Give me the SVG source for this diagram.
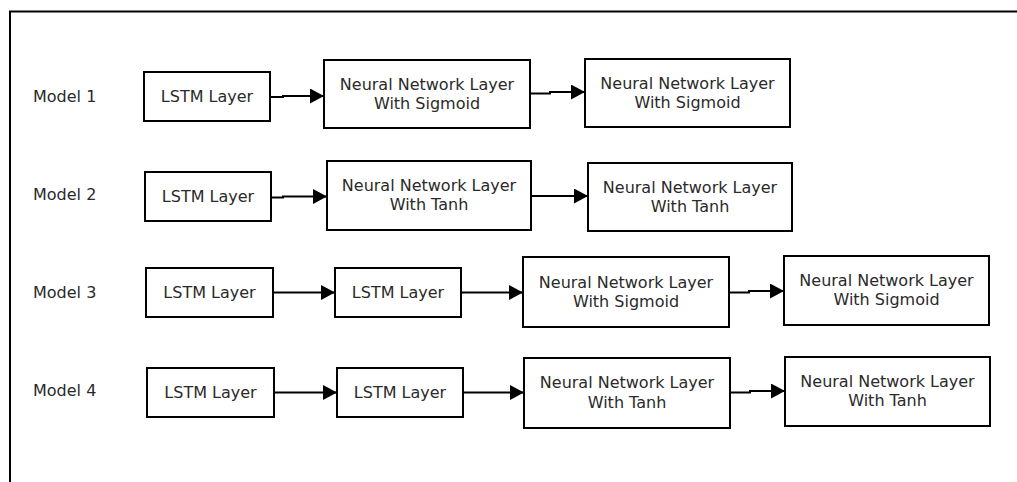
<svg xmlns="http://www.w3.org/2000/svg" width="1017" height="482" viewBox="0 0 1017 482">
  <defs>
    <marker id="head" viewBox="0 0 14 15" refX="14" refY="7.5" markerWidth="14" markerHeight="15" markerUnits="userSpaceOnUse" orient="auto">
      <path d="M0,0 L14,7.5 L0,15 Z" fill="#000"/>
    </marker>
    <style>
      .box { fill: #fff; stroke: #000; stroke-width: 2; }
      .lbl { font-family: "DejaVu Sans", sans-serif; font-size: 16px; fill: #2a2a2a; text-anchor: middle; }
      .model { font-family: "DejaVu Sans", sans-serif; font-size: 16px; fill: #2a2a2a; }
      .edge { fill: none; stroke: #000; stroke-width: 2; marker-end: url(#head); }
      .frame { fill: none; stroke: #000; stroke-width: 2; }
    </style>
  </defs>

  <rect x="0" y="0" width="1017" height="482" fill="#fff"/>
  <path class="frame" d="M10,482 V11.5 H1017"/>

  <!-- row labels -->
  <g id="labels">
    <text class="model" x="33" y="102">Model 1</text>
    <text class="model" x="33" y="200">Model 2</text>
    <text class="model" x="33" y="298">Model 3</text>
    <text class="model" x="33" y="396">Model 4</text>
  </g>

  <!-- connectors -->
  <g id="connectors">
    <path class="edge" d="M270,97 H283 V96 H324"/>
    <path class="edge" d="M530,93.5 H550 V92 H585"/>
    <path class="edge" d="M271,197.5 H283 V196.5 H327"/>
    <path class="edge" d="M531,196 H588"/>
    <path class="edge" d="M273,292.5 H335"/>
    <path class="edge" d="M461,292.5 H523"/>
    <path class="edge" d="M729,292.5 H749 V291 H784"/>
    <path class="edge" d="M274,392.5 H337"/>
    <path class="edge" d="M463,392.5 H524"/>
    <path class="edge" d="M730,392.5 H750 V391 H785"/>
  </g>

  <!-- Model 1 -->
  <g id="m1-lstm">
    <rect class="box" x="144" y="72" width="126" height="49"/>
    <text class="lbl" x="207" y="102">LSTM Layer</text>
  </g>
  <g id="m1-nn1">
    <rect class="box" x="324" y="60" width="206" height="68"/>
    <text class="lbl" x="427" y="90">Neural Network Layer</text>
    <text class="lbl" x="427" y="109">With Sigmoid</text>
  </g>
  <g id="m1-nn2">
    <rect class="box" x="585" y="59" width="205" height="68"/>
    <text class="lbl" x="687.5" y="89">Neural Network Layer</text>
    <text class="lbl" x="687.5" y="108">With Sigmoid</text>
  </g>

  <!-- Model 2 -->
  <g id="m2-lstm">
    <rect class="box" x="145" y="172" width="126" height="49"/>
    <text class="lbl" x="208" y="202">LSTM Layer</text>
  </g>
  <g id="m2-nn1">
    <rect class="box" x="327" y="161" width="204" height="69"/>
    <text class="lbl" x="429" y="191">Neural Network Layer</text>
    <text class="lbl" x="429" y="210">With Tanh</text>
  </g>
  <g id="m2-nn2">
    <rect class="box" x="588" y="163" width="204" height="68"/>
    <text class="lbl" x="690" y="193">Neural Network Layer</text>
    <text class="lbl" x="690" y="212">With Tanh</text>
  </g>

  <!-- Model 3 -->
  <g id="m3-lstm1">
    <rect class="box" x="146" y="268" width="127" height="49"/>
    <text class="lbl" x="209.5" y="298">LSTM Layer</text>
  </g>
  <g id="m3-lstm2">
    <rect class="box" x="335" y="268" width="126" height="49"/>
    <text class="lbl" x="398" y="298">LSTM Layer</text>
  </g>
  <g id="m3-nn1">
    <rect class="box" x="523" y="257" width="206" height="70"/>
    <text class="lbl" x="626" y="288">Neural Network Layer</text>
    <text class="lbl" x="626" y="307">With Sigmoid</text>
  </g>
  <g id="m3-nn2">
    <rect class="box" x="784" y="256" width="205" height="69"/>
    <text class="lbl" x="886.5" y="286">Neural Network Layer</text>
    <text class="lbl" x="886.5" y="305">With Sigmoid</text>
  </g>

  <!-- Model 4 -->
  <g id="m4-lstm1">
    <rect class="box" x="147" y="368" width="127" height="49"/>
    <text class="lbl" x="210.5" y="398">LSTM Layer</text>
  </g>
  <g id="m4-lstm2">
    <rect class="box" x="337" y="368" width="126" height="49"/>
    <text class="lbl" x="400" y="398">LSTM Layer</text>
  </g>
  <g id="m4-nn1">
    <rect class="box" x="524" y="358" width="206" height="70"/>
    <text class="lbl" x="627" y="388">Neural Network Layer</text>
    <text class="lbl" x="627" y="408">With Tanh</text>
  </g>
  <g id="m4-nn2">
    <rect class="box" x="785" y="357" width="205" height="69"/>
    <text class="lbl" x="887.5" y="387">Neural Network Layer</text>
    <text class="lbl" x="887.5" y="406">With Tanh</text>
  </g>
</svg>
